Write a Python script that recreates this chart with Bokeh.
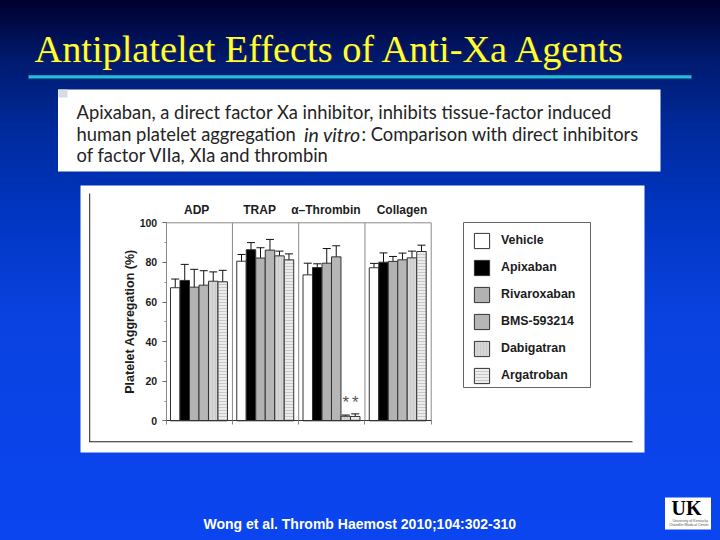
from bokeh.plotting import figure
from bokeh.embed import file_html
from bokeh.resources import INLINE
from bokeh.core.properties import value
from bokeh.models import (BoxAnnotation, ColumnDataSource, FixedTicker, GlobalInlineStyleSheet,
                          Label, Legend, LegendItem, LinearAxis, Range1d, TeeHead, Whisker)

groups = ["ADP", "TRAP", "α–Thrombin", "Collagen"]
series = ["Vehicle", "Apixaban", "Rivaroxaban", "BMS-593214", "Dabigatran", "Argatroban"]
vehicle = [67.2, 80.6, 73.7, 77.3]
apixaban = [70.9, 86.4, 77.4, 80.1]
rivaroxaban = [67.5, 82.2, 79.6, 80.5]
bms = [68.5, 86.2, 82.8, 81.3]
dabigatran = [70.5, 83.3, 2.3, 82.3]
argatroban = [70.2, 81.3, 2.2, 85.5]
vehicle_err = [4.4, 3.4, 5.9, 2.2]
apixaban_err = [8.1, 3.6, 1.9, 4.7]
rivaroxaban_err = [9.0, 5.2, 7.4, 2.5]
bms_err = [7.3, 5.4, 5.6, 3.4]
dabigatran_err = [4.7, 2.4, 0.6, 3.4]
argatroban_err = [5.8, 3.0, 1.3, 3.2]
y_ticks = [0, 20, 40, 60, 80, 100]
y_minor = [10, 30, 50, 70, 90]
group_edges = [0, 1, 2, 3, 4]
group_label_pos = [0.46, 1.41, 2.41, 3.56]
star_groups = [2, 2]
star_series = [4, 5]
star_values = [9, 9]

values = [vehicle, apixaban, rivaroxaban, bms, dabigatran, argatroban]
errors = [vehicle_err, apixaban_err, rivaroxaban_err, bms_err, dabigatran_err, argatroban_err]
fills = ["#ffffff", "#000000", "#b2b2b2", "#b6b6b6", "#d6d6d6", "#ececec"]
hatches = [None, None, None, None, "vertical_line", "horizontal_line"]
hatch_colors = [None, None, None, None, "#c9c9c9", "#c8c8c8"]

W, H = 720, 540
F_L, F_R, F_T, F_B = 165.7, 430.7, 222.3, 420.3
PX_X = (F_R - F_L) / 4
PX_Y = (F_B - F_T) / 100
BAR_W, BAR_OFF = 0.1433, 0.065
INK = "#1c1c1c"
GREY = "#8a8a8a"


def sx(px):
    return px


def sy(py):
    return H - py


def bar_x(g, s):
    return g + BAR_OFF + (s + 0.5) * BAR_W


p = figure(width=W, height=H, output_backend="svg", toolbar_location=None,
           x_range=Range1d(-F_L / PX_X, (W - F_L) / PX_X),
           y_range=Range1d((F_B - H) / PX_Y, F_B / PX_Y),
           x_axis_location=None, y_axis_location=None,
           min_border=0, background_fill_color=None, border_fill_color=None,
           outline_line_color=None)
p.stylesheets = [GlobalInlineStyleSheet(css=(
    "html{background:linear-gradient(#00002e 0px,#001a6e 60px,#002a9c 130px,"
    "#0034bd 200px,#0a42e0 320px,#0a45f0 540px) no-repeat;height:100%;}body{background:transparent;}"))]
p.grid.visible = False


def box(l, t, r, b, color, level="underlay", line=None):
    p.add_layout(BoxAnnotation(left=sx(l), right=sx(r), top=sy(t), bottom=sy(b),
                               left_units="screen", right_units="screen",
                               top_units="screen", bottom_units="screen",
                               fill_color=color, fill_alpha=1, line_color=line, line_alpha=1,
                               level=level, editable=False))


def text(t, x, y, size, color="#333333", font="Liberation Sans", style="normal", **kw):
    p.add_layout(Label(x=sx(x), y=sy(y), x_units="screen", y_units="screen", text=t,
                       text_font=font, text_font_size=f"{size}px", text_font_style=style,
                       text_color=color, text_baseline="middle", **kw))


# slide furniture
box(28, 74.7, 691, 78, "#1fc0d8")
box(57.5, 89, 660, 171, "#ffffff")
box(58, 89, 67, 97, "#d6dbe6")
box(80, 185, 644, 452, "#ffffff")
box(88.7, 193, 89.7, 441.5, "#222222")
box(88.7, 440.7, 632, 441.7, "#222222")
box(664.5, 497, 710.5, 529, "#ffffff")
box(463, 222, 590, 387, "#ffffff", line="#666666")

TITLE = "Antiplatelet Effects of Anti-Xa Agents"
text(TITLE, 35.5, 49.5, 38.3, color="#20204a", font="Liberation Serif")
text(TITLE, 34, 48, 38.3, color="#ffff33", font="Liberation Serif")

BODY = "Lato"
BODY_C = "#242424"
text("Apixaban, a direct factor Xa inhibitor, inhibits tissue-factor induced", 76, 111, 18.35, color=BODY_C, font=BODY)
text("human platelet aggregation ", 76, 133.5, 18.35, color=BODY_C, font=BODY)
text("in vitro", 303.5, 133.5, 19.5, color=BODY_C, font=BODY, style="italic")
text(": Comparison with direct inhibitors", 361, 133.5, 18.35, color=BODY_C, font=BODY)
text("of factor VIIa, XIa and thrombin", 76, 154.5, 18.35, color=BODY_C, font=BODY)
text("Wong et al. Thromb Haemost 2010;104:302-310", 203, 523.5, 14, color="#ffffff", style="bold")
text("UK", 671, 507.5, 20, color="#000000", font="Liberation Serif", style="bold")
text("University of Kentucky", 672, 520, 3.6, color="#555555")
text("Chandler Medical Center", 668.5, 524, 3.6, color="#555555")

# plot box: top edge, right edge and dividers between groups
p.segment(x0=group_edges[1:], x1=group_edges[1:], y0=[0] * 4, y1=[100] * 4,
          line_color=GREY, line_width=1)
p.segment(x0=[0], x1=[4], y0=[100], y1=[100], line_color=GREY, line_width=1)

# bars and error bars
items = []
for s, name in enumerate(series):
    xs = [bar_x(g, s) for g in range(len(groups))]
    src = ColumnDataSource(dict(x=xs, top=values[s],
                                up=[v + e for v, e in zip(values[s], errors[s])],
                                lo=[v - e for v, e in zip(values[s], errors[s])]))
    extra = {}
    if hatches[s]:
        extra = dict(hatch_pattern=hatches[s], hatch_color=hatch_colors[s], hatch_scale=3, hatch_weight=1)
    r = p.vbar(x="x", top="top", width=BAR_W, bottom=0, source=src, fill_color=fills[s],
               line_color="#333333", line_width=1, **extra)
    p.add_layout(Whisker(base="x", upper="up", lower="lo", source=src, dimension="height",
                         line_color="#111111", line_width=1,
                         upper_head=TeeHead(size=8, line_color="#111111", line_width=1),
                         lower_head=TeeHead(size=8, line_color="#111111", line_width=1)))
    items.append(LegendItem(label=name, renderers=[r]))

p.text(x=[bar_x(g, s) for g, s in zip(star_groups, star_series)], y=star_values,
       text=["*", "*"], text_align="center", text_baseline="middle",
       text_font=value("Liberation Sans"), text_font_size="17px", text_color="#555555")

# axes pinned to the plot box
ya = LinearAxis(fixed_location=0, bounds=(0, 100),
                ticker=FixedTicker(ticks=y_ticks, minor_ticks=y_minor),
                axis_label="Platelet Aggregation (%)",
                axis_label_text_font="Liberation Sans", axis_label_text_font_style="bold",
                axis_label_text_font_size="12.5px", axis_label_text_color=INK,
                axis_label_standoff=0,
                major_label_text_font="Liberation Sans", major_label_text_font_style="bold",
                major_label_text_font_size="10.5px", major_label_text_color=INK,
                major_label_standoff=5,
                axis_line_color=GREY, major_tick_line_color="#666666", minor_tick_line_color=GREY,
                major_tick_in=0, major_tick_out=4, minor_tick_in=0, minor_tick_out=2)
p.add_layout(ya, "left")

xa = LinearAxis(fixed_location=0, bounds=(0, 4), ticker=FixedTicker(ticks=group_edges),
                major_label_text_font_size="0px", major_label_text_color=None,
                axis_line_color="#333333", major_tick_line_color=GREY,
                major_tick_in=0, major_tick_out=4, minor_tick_line_color=None)
p.add_layout(xa, "below")

top = LinearAxis(fixed_location=100, ticker=FixedTicker(ticks=group_label_pos),
                 major_label_overrides={v: g for v, g in zip(group_label_pos, groups)},
                 axis_line_color=None, major_tick_line_color=None, minor_tick_line_color=None,
                 major_label_text_font="Liberation Sans", major_label_text_font_style="bold",
                 major_label_text_font_size="12px", major_label_text_color=INK,
                 major_label_standoff=0)
p.add_layout(top, "above")

legend = Legend(items=items, location=(sx(472), sy(384.5)), orientation="vertical",
                glyph_width=19, glyph_height=19, spacing=8, margin=0, padding=0,
                label_text_font="Liberation Sans", label_text_font_style="bold",
                label_text_font_size="12.4px", label_text_color=INK,
                label_standoff=10, border_line_color=None,
                background_fill_alpha=0)
p.add_layout(legend)

open("out.html", "w").write(file_html(p, INLINE))
